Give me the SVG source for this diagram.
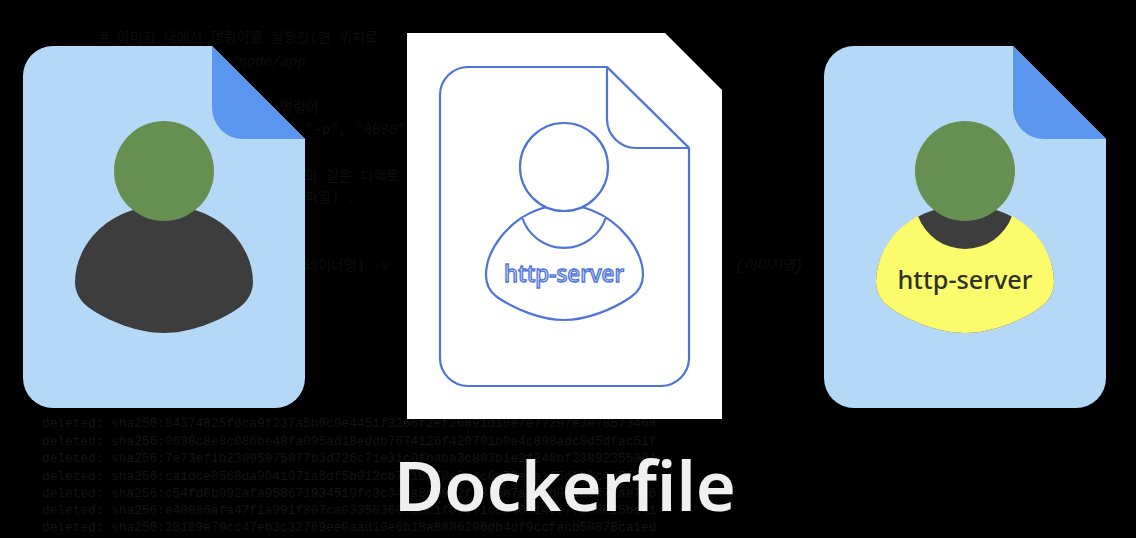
<svg xmlns="http://www.w3.org/2000/svg" width="1136" height="538" viewBox="0 0 1136 538">
<style>
.bg{font-family:"Liberation Mono","Noto Sans CJK KR",monospace;font-size:12.8px;fill:#141414}
.kr{font-family:"Liberation Mono","Noto Sans CJK KR",monospace;font-size:14px;fill:#0e0e0e}
.paper{fill:#b5d8f7}.fold{fill:#5b96ef}.head{fill:#668f52}.dark{fill:#3e3d3d}
.line{fill:#fff;stroke:#4f74d9;stroke-width:2.2;stroke-linejoin:round}
.lbl{font-family:"Noto Sans",sans-serif;font-weight:500;text-anchor:middle}
</style>
<defs>
<path id="doc" d="M30 0H189L282 93V332A30 30 0 0 1 252 362H30A30 30 0 0 1 0 332V30A30 30 0 0 1 30 0Z"/>
<path id="flap" d="M189 0L282 93H220A31 31 0 0 1 189 62Z"/>
<path id="body" d="M-31 210C-70 222-89 255-89 282C-89 292-84 301-76 307C-55 322-25 333 0 333C25 333 55 322 76 307C84 301 89 292 89 282C89 255 70 222 31 210Q0 200-31 210Z"/>
</defs>
<rect width="1136" height="538" fill="#000"/>
<g id="background-text">
<text class="kr" x="100" y="42">#  이미지 내에서 명령어를 실행할(현 위치로</text>
<text class="kr" x="230" y="66" font-style="italic">/node/app</text>
<text class="kr" x="280" y="112">명령어</text>
<text class="kr" x="305" y="134">"-p", "8080",</text>
<text class="kr" x="305" y="181">와 같은 디렉토</text>
<text class="kr" x="305" y="202">파일) .</text>
<text class="kr" x="305" y="270">테이너명)  -v</text>
<text class="kr" x="735" y="270" font-style="italic">{이미지명}</text>
<text class="bg" x="42" y="427">deleted: sha256:84374825fdca9f237a5b6c0e4451f3266f2ef26891d18e7e77297e3e78573468</text>
<text class="bg" x="42" y="445">deleted: sha256:0698c8e8c086be48fa095ad18eddb7674126f420701b0e4c898adc0d5dfac51f</text>
<text class="bg" x="42" y="462">deleted: sha256:7e73ef1b23095975077b3d726c71e31c0fbaba3c803b1e2f248bf23892355984</text>
<text class="bg" x="42" y="480">deleted: sha256:ca1dce0568da9041071a6df5b912cb70194f0e8a1c6d72e3a1f5d0b8c4e7f216</text>
<text class="bg" x="42" y="497">deleted: sha256:c54fd0b092afa958671934519fc3c34ea8d09c2f1835e7a4b6d0913cf72ae786</text>
<text class="bg" x="42" y="514">deleted: sha256:e40886afa47f1a991f807ca033583600ddc1f07e71c3e40914fe7f8e3e25bc41</text>
<text class="bg" x="42" y="531">deleted: sha256:28189e70cc47eb3c32769ee0aad10e6b18a8886206db4df9ccfacb50878ca1ed</text>
</g>
<g id="image-file" transform="translate(23 46)">
<use href="#doc" class="paper"/><use href="#flap" class="fold"/>
</g>
<g id="image-person">
<use href="#body" class="dark" transform="translate(164 0)"/>
<circle class="head" cx="164" cy="171" r="50"/>
</g>
<g id="dockerfile-sheet">
<path fill="#fff" d="M407 33H665L722 90V419H407Z"/>
<path class="line" d="M468 67H607L689 148V358A28 28 0 0 1 661 386H468A28 28 0 0 1 440 358V95A28 28 0 0 1 468 67Z"/>
<path class="line" d="M607 67L689 148H636A29 29 0 0 1 607 119Z"/>
<path class="line" d="M537 210C508 221 486 250 486 275C486 284 490 292 497 297C516 310 542 320 564 320C586 320 612 310 631 297C638 292 643 284 643 275C643 250 620 221 591 210Q564 200 537 210Z"/>
<path class="line" fill="none" d="M522 217A44 44 0 0 0 606 217"/>
<circle class="line" cx="564" cy="167" r="44"/>
<text class="lbl" x="564" y="282" font-size="23" fill="#c9d8f8" stroke="#4f74d9" stroke-width="1.3" textLength="120" lengthAdjust="spacingAndGlyphs">http-server</text>
</g>
<g id="container-file" transform="translate(824 46)">
<use href="#doc" class="paper"/><use href="#flap" class="fold"/>
</g>
<g id="container-person">
<use href="#body" class="dark" transform="translate(965 0)"/>
<path fill="#fbfb6b" d="M1012 216C1042 232 1054 260 1054 282C1054 292 1049 301 1041 307C1020 322 990 333 965 333C940 333 910 322 889 307C881 301 876 292 876 282C876 260 888 232 918 216A50 50 0 0 0 1012 216Z"/>
<circle class="head" cx="965" cy="171" r="50"/>
<text class="lbl" x="965" y="289" font-size="24.5" fill="#2f3128" textLength="135" lengthAdjust="spacingAndGlyphs">http-server</text>
</g>
<g id="title">
<text x="565" y="511" font-family="'Noto Sans',sans-serif" font-size="68" font-weight="600" fill="#f0f0f0" text-anchor="middle" textLength="342" lengthAdjust="spacingAndGlyphs">Dockerfile</text>
</g>
<g id="connectors"/>
</svg>
